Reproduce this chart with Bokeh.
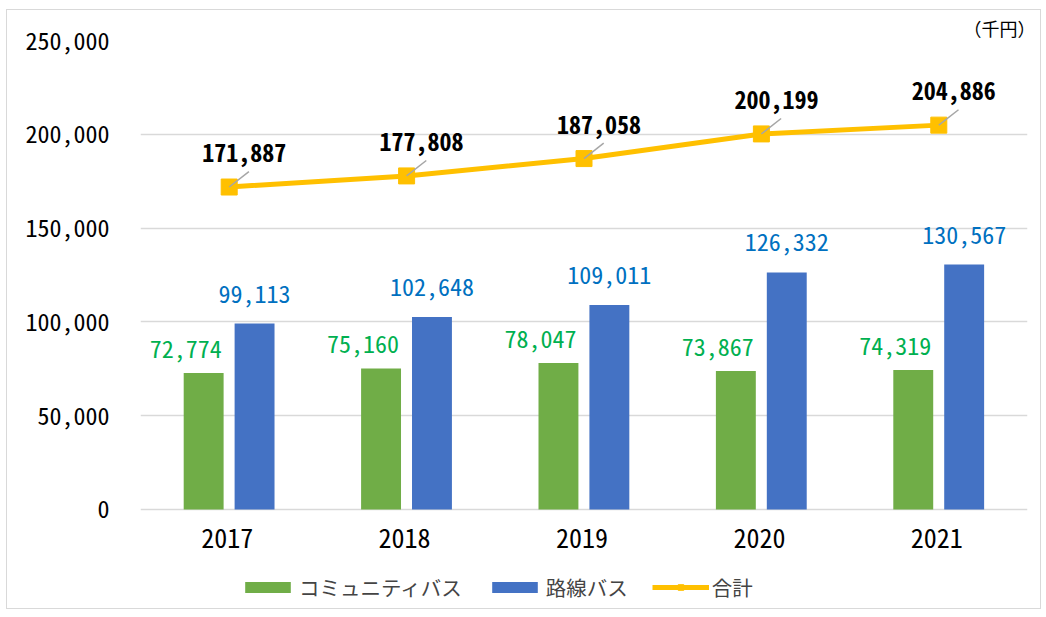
from bokeh.plotting import figure
from bokeh.models import (FactorRange, Range1d, ColumnDataSource, Legend, LegendItem,
                          NumeralTickFormatter)
from bokeh.transform import dodge
from bokeh.core.properties import value
from bokeh.embed import file_html
from bokeh.resources import INLINE

# ---- data ----
years = ["2017", "2018", "2019", "2020", "2021"]
community = [72774, 75160, 78047, 73867, 74319]
route = [99113, 102648, 109011, 126332, 130567]
total = [171887, 177808, 187058, 200199, 204886]
y_ticks = [0, 50000, 100000, 150000, 200000, 250000]
series_names = ["コミュニティバス", "路線バス", "合計"]
unit_label = "（千円）"

NUM_FONT = "Noto Sans Mono CJK JP"
JP_FONT = "Noto Sans CJK JP"


def fmt(v):
    return f"{v:,}"


src = ColumnDataSource(dict(
    year=years, community=community, route=route, total=total,
    zero=[0] * len(years),
    c_lbl=[fmt(v) for v in community],
    r_lbl=[fmt(v) for v in route],
    t_lbl=[fmt(v) for v in total],
))

# frame extends below zero so the category labels and legend sit inside it
p = figure(x_range=FactorRange(*years), y_range=Range1d(-52800, 250000),
           frame_width=887, frame_height=568, output_backend="svg", toolbar_location=None,
           min_border_left=133, min_border_top=30, min_border_right=13,
           min_border_bottom=0,
           title=unit_label)
p.styles = {"border": "1px solid #d9d9d9", "margin": "9px 0 0 6px"}
p.outline_line_color = None
p.background_fill_color = "white"
p.border_fill_color = "white"

p.title.align = "right"
p.title.text_font = JP_FONT
p.title.text_font_size = "18px"
p.title.text_font_style = "normal"
p.title.text_color = "#000000"
p.title.standoff = 0
p.title.offset = -8

p.xgrid.grid_line_color = None
p.ygrid.grid_line_color = "#d9d9d9"
p.ygrid.grid_line_width = 1.3

p.yaxis.ticker = y_ticks
p.yaxis.formatter = NumeralTickFormatter(format="0,0")
p.yaxis.axis_line_color = None
p.yaxis.major_tick_line_color = None
p.yaxis.minor_tick_line_color = None
p.yaxis.major_label_standoff = 25
p.yaxis.major_label_text_font = NUM_FONT
p.yaxis.major_label_text_font_size = "24px"
p.yaxis.major_label_text_color = "#000000"

p.xaxis.visible = False

b1 = p.vbar(x=dodge("year", -0.144, range=p.x_range), top="community", width=0.225,
            source=src, fill_color="#70AD47", line_color=None)
b2 = p.vbar(x=dodge("year", 0.143, range=p.x_range), top="route", width=0.225,
            source=src, fill_color="#4472C4", line_color=None)
ln = p.line(x="year", y="total", source=src, line_color="#FFC000", line_width=5)
sc = p.scatter(x="year", y="total", source=src, marker="square", size=16,
               fill_color="#FFC000", line_color="#FFC000")
p.ray(x="year", y="total", source=src, length=25, length_units="screen",
      angle=38, angle_units="deg", line_color="#a6a6a6", line_width=1.5)

# category labels under the zero line
p.text(x="year", y="zero", text="year", source=src, x_offset=-2, y_offset=29,
       text_align="center", text_baseline="middle",
       text_font=value(NUM_FONT), text_font_size="26px", text_color="#000000")

p.text(x=dodge("year", -0.144, range=p.x_range), y="community", text="c_lbl", source=src,
       x_offset=-18, y_offset=-15, text_align="center", text_baseline="bottom",
       text_font=value(NUM_FONT), text_font_size="24px", text_color="#00B050")
p.text(x=dodge("year", 0.143, range=p.x_range), y="route", text="r_lbl", source=src,
       x_offset=0, y_offset=-21, text_align="center", text_baseline="bottom",
       text_font=value(NUM_FONT), text_font_size="24px", text_color="#0070C0")
p.text(x="year", y="total", text="t_lbl", source=src,
       x_offset=15, y_offset=-34, text_align="center", text_baseline="middle",
       text_font=value(NUM_FONT), text_font_size="24px", text_font_style="bold",
       text_color="#000000")

legend = Legend(items=[
    LegendItem(label=series_names[0], renderers=[b1]),
    LegendItem(label=series_names[1], renderers=[b2]),
    LegendItem(label=series_names[2], renderers=[ln, sc]),
], orientation="horizontal", location=(99, 6), glyph_width=57, glyph_height=14,
    label_text_font=JP_FONT, label_text_font_size="20.5px", spacing=24,
    label_standoff=3, border_line_color=None, background_fill_alpha=0,
    padding=3, margin=0)
p.add_layout(legend, "center")

open("out.html", "w").write(file_html(p, INLINE))
